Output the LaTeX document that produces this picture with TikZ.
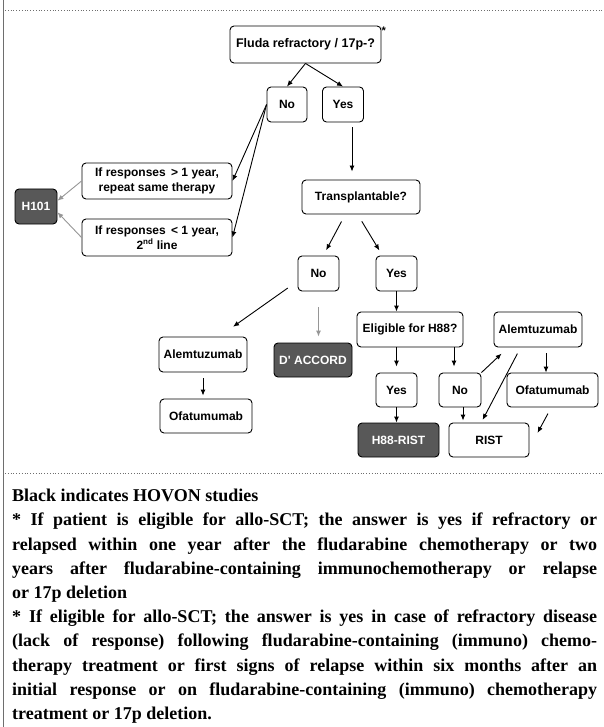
\documentclass[tikz,border=0pt]{standalone}
\usepackage{fontspec}
\setmainfont{Liberation Serif}
\newfontfamily\diagfont{Liberation Sans}
\usepackage{tikz}
\usetikzlibrary{arrows.meta,calc}
\definecolor{boxgrey}{RGB}{88,88,88}
\definecolor{arrgrey}{RGB}{150,150,150}
\definecolor{rulegrey}{RGB}{110,110,110}

\begin{document}
\begin{tikzpicture}[x=1pt,y=-1pt,
  box/.style={draw,rounded corners=4pt,line width=0.9pt,minimum height=35pt,inner sep=1pt,align=center,fill=white,font=\diagfont\bfseries\fontsize{12}{14.5}\selectfont},
  darkbox/.style={box,fill=boxgrey,text=white},
  arr/.style={-{Latex[length=6pt,width=5pt]},line width=0.9pt},
  greyarr/.style={arr,arrgrey}]
\useasboundingbox (0,0) rectangle (603,727);
\draw[rulegrey,line width=1.3pt] (3.5,0)--(3.5,727);
\draw[rulegrey,line width=0.6pt,dash pattern=on 0.8pt off 2pt] (5,10)--(603,10);
\draw[rulegrey,line width=0.6pt,dash pattern=on 0.8pt off 2pt] (5,473)--(603,473);

\node[box,minimum width=151pt,minimum height=37pt,font=\diagfont\bfseries\fontsize{12.5}{14}\selectfont] (fluda) at (305.5,44.5) {Fluda refractory / 17p-?};
\node[anchor=north west,inner sep=0pt,font=\diagfont\bfseries\fontsize{11}{11}\selectfont] (star) at ([yshift=-1pt]fluda.north east) {*};
\node[box,minimum width=40pt] (no1) at (287,104.5) {No};
\node[box,minimum width=41pt] (yes1) at (343,104.5) {Yes};
\node[box,minimum width=150pt,minimum height=36pt] (if1) at (157,181) {If responses \,> 1 year,\\repeat same therapy};
\node[box,minimum width=150pt,minimum height=37pt] (if2) at (157,237.5) {If responses \,< 1 year,\\2\textsuperscript{nd} line};
\node[darkbox,minimum width=42pt] (h101) at (36,206.5) {H101};
\node[box,minimum width=118pt,minimum height=34pt] (trans) at (361,197) {Transplantable?};
\node[box,minimum width=41pt] (no2) at (318.5,273.5) {No};
\node[box,minimum width=41pt] (yes2) at (396.5,273.5) {Yes};
\node[box,minimum width=88pt] (alemL) at (203,354.5) {Alemtuzumab};
\node[box,minimum width=92pt,minimum height=34pt] (ofaL) at (206,416) {Ofatumumab};
\node[darkbox,minimum width=78pt,minimum height=34pt] (dacc) at (313,360) {D' ACCORD};
\node[box,minimum width=106pt] (elig) at (410,329.5) {Eligible for H88?};
\node[box,minimum width=88pt] (alemR) at (538,329.5) {Alemtuzumab};
\node[box,minimum width=41pt,minimum height=34pt] (yes3) at (396.5,390) {Yes};
\node[box,minimum width=42pt,minimum height=34pt] (no3) at (460,390) {No};
\node[box,minimum width=91pt,minimum height=34pt] (ofaR) at (552.5,390) {Ofatumumab};
\node[darkbox,minimum width=81pt,minimum height=34pt] (h88) at (398.5,440) {H88-RIST};
\node[box,minimum width=80pt,minimum height=34pt] (rist) at (489,440) {RIST};

\draw[arr] (fluda.south)--(no1.north);
\draw[arr] (fluda.south)--(yes1.north);
\draw[arr] (no1.west)--(if1.east);
\draw[arr] (no1.west)--(if2.east);
\draw[greyarr] (if1.west)--(h101.15);
\draw[greyarr] (if2.west)--(h101.-15);
\draw[arr,shorten <=5pt,shorten >=8pt] ([xshift=9pt]yes1.south)--([xshift=9pt]yes1.south |- trans.north);
\draw[arr,shorten <=8pt,shorten >=6pt] (trans.228)--(no2.75);
\draw[arr,shorten <=8pt,shorten >=6pt] (trans.259)--(yes2.128);
\draw[arr,shorten <=12pt,shorten >=17pt] (no2.200)--(alemL.48);
\draw[greyarr,shorten <=16pt,shorten >=6pt] (no2.south)--(no2.south |- dacc.north);
\draw[arr] (yes2.south)--(yes2.south |- elig.north);
\draw[arr,shorten <=6pt,shorten >=3pt] (alemL.south)--(alemL.south |- ofaL.north);
\draw[arr,shorten >=6pt] (yes3.north |- elig.south)--(yes3.north);
\draw[arr,shorten >=6pt] ([xshift=-6pt]no3.north |- elig.south)--([xshift=-6pt]no3.north);
\draw[arr] (yes3.south)--(yes3.south |- h88.north);
\draw[arr,shorten >=2pt] ([xshift=3pt]no3.south)--([xshift=3pt]no3.south |- rist.north);
\draw[arr,shorten >=9pt] (no3.north east)--(alemR.211);
\draw[arr,shorten <=7pt,shorten >=3pt] (alemR.226)--(rist.114);
\draw[arr,shorten <=6pt] ([xshift=8pt]alemR.south)--([xshift=8pt]alemR.south |- ofaR.north);
\draw[arr,shorten <=7pt,shorten >=17pt] (ofaR.266)--(rist.349);

\node[anchor=north west,inner sep=0pt,text width=585pt,align=justify,font=\bfseries\fontsize{18}{24.2}\selectfont] (notes) at (12,489) {\tolerance=10000 \hyphenpenalty=10000 \exhyphenpenalty=10000 Black indicates HOVON studies\par
* If patient is eligible for allo-SCT; the answer is yes if refractory or\linebreak
relapsed within one year after the fludarabine chemotherapy or two\linebreak
years after fludarabine-containing immunochemotherapy or relapse\linebreak
or 17p deletion\par
* If eligible for allo-SCT; the answer is yes in case of refractory disease\linebreak
(lack of response) following fludarabine-containing (immuno) chemo-\linebreak
therapy treatment or first signs of relapse within six months after an\linebreak
initial response or on fludarabine-containing (immuno) chemotherapy\linebreak
treatment or 17p deletion.};
\end{tikzpicture}
\end{document}
